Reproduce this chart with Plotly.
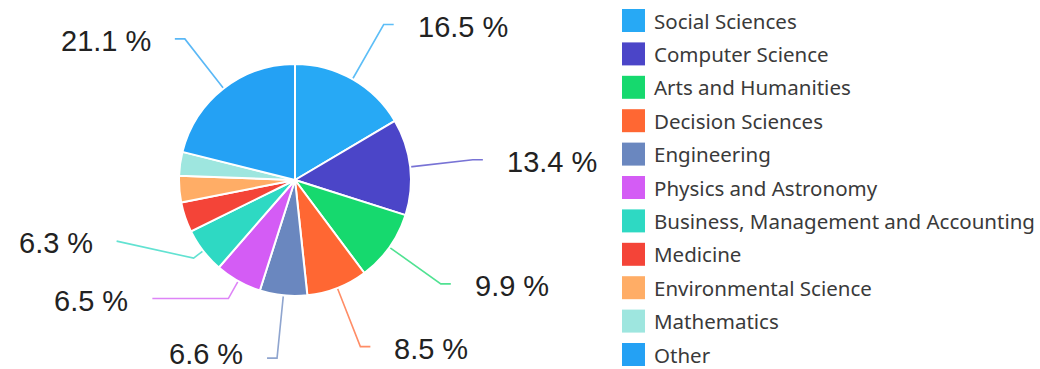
import math
import plotly.graph_objects as go

# Share of publications by subject area (%)
categories = [
    "Social Sciences", "Computer Science", "Arts and Humanities",
    "Decision Sciences", "Engineering", "Physics and Astronomy",
    "Business, Management and Accounting", "Medicine",
    "Environmental Science", "Mathematics", "Other",
]
shares = [16.5, 13.4, 9.9, 8.5, 6.6, 6.5, 6.3, 4.2, 3.7, 3.3, 21.1]

colors = [
    "#27A9F5", "#4B45C8", "#16D96E", "#FF6733", "#6A87BF", "#D45CF5",
    "#2ED9C3", "#F44438", "#FFAD66", "#9EE6DF", "#24A1F4",
]

W, H = 1040, 369
CX, CY, R = 295, 180, 116          # pie centre and radius in pixels
LABEL_MIN = 5.0                    # slices below this share get no callout
ELBOW_R = 179                      # default radius where the leader line bends
TAIL = 10                          # default horizontal tail length
GAP = 22                           # space between tail end and label text

# per-slice callout tweaks: (elbow radius, tail dx, tail dy)
callout_adjust = {
    "Physics and Astronomy": (136, -76, 0),
    "Business, Management and Accounting": (128, -77, -17),
}

fig = go.Figure()

fig.add_trace(go.Pie(
    labels=categories,
    values=shares,
    sort=False,
    direction="clockwise",
    rotation=0,
    textinfo="none",
    marker=dict(colors=colors, line=dict(color="white", width=2)),
    domain=dict(x=[(CX - R) / W, (CX + R) / W], y=[1 - (CY + R) / H, 1 - (CY - R) / H]),
    showlegend=False,
    hovertemplate="%{label}: %{value:.1f} %<extra></extra>",
))

annotations = []
total = sum(shares)
cum = 0.0
for name, val, col in zip(categories, shares, colors):
    mid = (cum + val / 2) / total * 2 * math.pi
    cum += val
    if val < LABEL_MIN:
        continue
    sx, cy_ = math.sin(mid), -math.cos(mid)
    er, tdx, tdy = callout_adjust.get(name, (ELBOW_R, TAIL if sx >= 0 else -TAIL, 0))
    p0 = (CX + R * sx, CY + R * cy_)
    p1 = (CX + er * sx, CY + er * cy_)
    p2 = (p1[0] + tdx, p1[1] + tdy)
    fig.add_trace(go.Scatter(
        x=[p0[0], p1[0], p2[0]], y=[p0[1], p1[1], p2[1]],
        mode="lines", line=dict(color=col, width=1.6), opacity=0.75,
        xaxis="x", yaxis="y", hoverinfo="skip", showlegend=False,
    ))
    right = tdx >= 0
    annotations.append(dict(
        x=p2[0] + (GAP if right else -GAP), y=min(p2[1] + 2, H - 15),
        xref="x", yref="y", text=f"{val:.1f} %", showarrow=False,
        xanchor="left" if right else "right", yanchor="middle",
        font=dict(family="Liberation Sans, Arial, sans-serif", size=29, color="#222222"),
    ))

# legend drawn as swatches with labels
LEG_X, LEG_Y0, LEG_STEP, SW = 622, 9, 33.4, 23
shapes = []
for i, (name, col) in enumerate(zip(categories, colors)):
    y0 = LEG_Y0 + i * LEG_STEP
    shapes.append(dict(type="rect", xref="x", yref="y", x0=LEG_X, x1=LEG_X + SW,
                       y0=y0, y1=y0 + SW, fillcolor=col, line=dict(width=0), layer="above"))
    annotations.append(dict(
        x=LEG_X + SW + 7, y=y0 + SW / 2, xref="x", yref="y", text=name,
        showarrow=False, xanchor="left", yanchor="middle",
        font=dict(family="Noto Sans, sans-serif", size=20.5, color="#3a3a3a"),
    ))

fig.update_layout(
    width=W, height=H,
    margin=dict(l=0, r=0, t=0, b=0),
    paper_bgcolor="white", plot_bgcolor="rgba(0,0,0,0)",
    xaxis=dict(range=[0, W], visible=False, fixedrange=True, domain=[0, 1]),
    yaxis=dict(range=[H, 0], visible=False, fixedrange=True, domain=[0, 1]),
    annotations=annotations,
    shapes=shapes,
    showlegend=False,
)

fig.write_html("out.html")
